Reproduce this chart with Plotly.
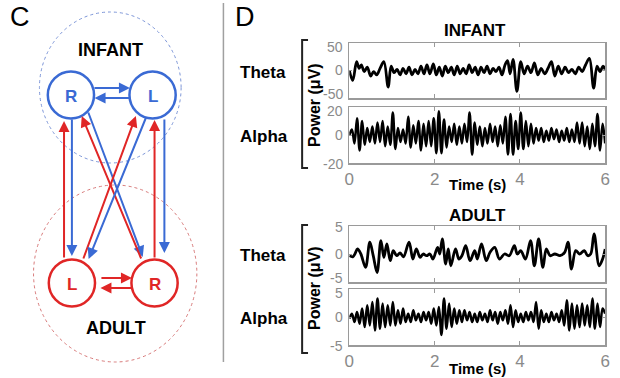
import plotly.graph_objects as go

W, H = 620, 378
FONT = "Liberation Sans, Arial, sans-serif"

# ---------------- data ----------------
# turning points of the theta traces: (time s, value)
INFANT_THETA = [(0.00, 0), (0.08, -18), (0.17, 16), (0.23, 4), (0.28, 10), (0.35, -2), (0.42, 6),
                (0.50, -10), (0.57, -2), (0.64, -8), (0.72, 4), (0.81, 16), (0.91, -30), (0.98, 8),
                (1.05, -4), (1.12, 2), (1.19, -8), (1.26, 4), (1.33, -6), (1.40, 6), (1.47, -8),
                (1.54, 2), (1.61, -6), (1.68, 8), (1.75, -6), (1.82, 10), (1.89, -6), (1.97, 12),
                (2.04, -8), (2.11, 6), (2.18, -10), (2.25, 8), (2.32, -4), (2.39, 6), (2.46, -8),
                (2.53, 8), (2.60, -6), (2.67, 4), (2.74, -6), (2.81, 10), (2.88, -4), (2.95, 6),
                (3.02, -8), (3.09, 6), (3.16, -4), (3.23, 8), (3.30, -6), (3.37, 4), (3.44, -2),
                (3.51, 6), (3.58, -8), (3.65, 10), (3.71, 18), (3.77, -6), (3.84, 20), (3.93, -38),
                (4.02, 16), (4.10, -6), (4.18, 8), (4.26, -4), (4.34, 14), (4.42, -8), (4.50, 4),
                (4.58, -6), (4.66, 4), (4.74, 16), (4.82, -10), (4.90, 8), (4.98, -6), (5.06, 6),
                (5.14, -4), (5.22, 2), (5.30, -6), (5.38, 6), (5.46, -2), (5.54, 10), (5.63, 22),
                (5.73, -32), (5.81, 8), (5.88, -2), (5.95, 8), (6.00, 2)]

ADULT_THETA = [(0.00, -0.3), (0.08, -0.5), (0.13, 0.0), (0.19, 0.9), (0.27, 0.0), (0.38, -2.4),
               (0.48, 2.1), (0.56, -0.3), (0.65, -3.3), (0.74, 2.4), (0.81, -0.6), (0.88, 1.8),
               (0.96, -1.2), (1.03, 0.6), (1.11, -0.3), (1.19, 0.2), (1.27, -0.5), (1.40, 2.1),
               (1.49, -0.9), (1.57, 0.9), (1.66, -0.6), (1.73, 0.0), (1.81, -0.3), (1.89, 0.0),
               (1.96, -0.9), (2.07, 1.2), (2.12, 0.0), (2.18, 2.7), (2.26, -1.8), (2.32, 0.9),
               (2.38, -2.1), (2.49, 0.9), (2.57, -0.9), (2.64, -0.3), (2.73, 1.5), (2.83, -1.2),
               (2.94, 0.6), (3.00, -0.9), (3.10, 1.8), (3.21, -1.2), (3.30, 0.3), (3.41, 1.2),
               (3.52, -0.9), (3.64, 0.0), (3.75, -0.3), (3.87, 1.5), (3.94, 0.0), (4.02, 0.6),
               (4.13, -0.9), (4.25, 2.4), (4.34, -2.1), (4.44, 2.7), (4.54, -2.4), (4.62, 0.9),
               (4.71, -0.3), (4.82, 0.0), (4.94, -0.3), (5.05, 0.3), (5.13, 2.1), (5.21, -2.7),
               (5.31, 0.6), (5.40, 0.0), (5.51, 0.6), (5.59, -0.3), (5.66, 0.0), (5.74, 3.6),
               (5.86, -2.1), (5.94, -0.9), (6.00, 0.9)]

# alpha traces: turning points every 0.06 s
ALPHA_STEP = 0.06
INFANT_ALPHA = [0, 4, -6, 12, -11, 10, -7, 5, -5, 6,
                -6, 9, -5, 10, -8, 6, -7, 16, -10, 5,
                -5, 4, -6, 13, -9, 7, -6, 10, -11, 8,
                -8, 10, -8, 12, -13, 17, -13, 11, -9, 6,
                -5, 8, -7, 6, -6, 8, -5, 16, -14, 9,
                -7, 6, -8, 5, -6, 8, -5, 6, -8, 7,
                -6, 13, -14, 15, -14, 10, -10, 16, -10, 10,
                -8, 8, -6, 5, -4, 5, -5, 3, -4, 5,
                -3, 4, -5, 3, -4, 5, -5, 4, -5, 9,
                -6, 9, -8, 6, -10, 8, -8, 15, -11, 8,
                -6]

ADULT_ALPHA = [-0.3, 0.6, -0.9, 0.9, -1.2, 1.5, -1.8, 2.1, -1.5, 2.7,
               -2.4, 3.3, -2.1, 2.4, -1.8, 2.1, -1.5, 2.7, -1.5, 1.2,
               -1.2, 1.5, -0.9, 0.6, -0.9, 1.2, -0.6, 0.6, -0.9, 0.9,
               -0.6, 0.9, -1.2, 1.5, -1.5, 1.8, -3.2, 3.3, -2.1, 2.4,
               -1.8, 1.5, -1.2, 1.2, -0.9, 1.2, -0.6, 0.9, -0.9, 0.6,
               -0.9, 0.9, -0.6, 0.6, -0.9, 1.2, -0.6, 0.9, -1.2, 0.9,
               -0.6, 1.2, -1.2, 2.1, -1.8, 1.2, -0.9, 0.6, -0.9, 0.9,
               -0.6, 0.9, -0.9, 2.7, -2.1, 1.2, -0.9, 0.6, -0.9, 0.9,
               -0.6, 0.6, -0.9, 1.2, -1.5, 3.0, -2.4, 2.4, -2.1, 2.1,
               -1.8, 2.4, -1.5, 2.1, -1.8, 3.3, -2.1, 2.4, -1.8, 1.5,
               0.6]

TIME_TICKS = [0, 2, 4, 6]
THETA_LABEL, ALPHA_LABEL = "Theta", "Alpha"
GROUPS = ["INFANT", "ADULT"]

# ---------------- helpers ----------------
def px(x):
    return x / W

def py(y):
    return 1 - y / H

def alpha_times(vals):
    return [round(i * ALPHA_STEP, 3) for i in range(len(vals))]

BLUE = "#3a6ad4"
RED = "#e02626"
AXC = "#9a9a9a"
TICKC = "#8a8a8a"

fig = go.Figure()

panels = [
    # (x, y, axis index, top px, bottom px, range, tickvals, label y-shifts, show x labels, width)
    ([t for t, _ in INFANT_THETA], [v for _, v in INFANT_THETA], 1, 43, 98, [-50, 50], [-50, 0, 50], (4, 0, -4), False, 2.8),
    (alpha_times(INFANT_ALPHA), INFANT_ALPHA, 2, 107, 163, [-20, 20], [-20, 0, 20], (-1, 0, -4), True, 2.5),
    ([t for t, _ in ADULT_THETA], [v for _, v in ADULT_THETA], 3, 226, 282, [-5, 5], [-5, 0, 5], (4, 0, -1), False, 2.8),
    (alpha_times(ADULT_ALPHA), ADULT_ALPHA, 4, 289, 345, [-5, 5], [-5, 0, 5], (-1, 0, -4), True, 2.5),
]

layout = dict(
    width=W, height=H, margin=dict(l=0, r=0, t=0, b=0), autosize=False,
    paper_bgcolor="white", plot_bgcolor="white", showlegend=False,
    font=dict(family=FONT, color="black"),
)

ann = []
shapes = []

for xs, ys, k, top, bot, yr, ytv, shifts, showx, lw in panels:
    sfx = "" if k == 1 else str(k)
    fig.add_trace(go.Scatter(x=xs, y=ys, mode="lines", xaxis="x" + sfx, yaxis="y" + sfx,
                             line=dict(color="black", width=lw, shape="spline", smoothing=1.0),
                             hoverinfo="skip"))
    layout["xaxis" + sfx] = dict(
        domain=[px(350), px(610)], range=[0, 6], anchor="y" + sfx,
        tickvals=TIME_TICKS, showticklabels=showx, ticks="inside", ticklen=4,
        tickcolor=AXC, tickwidth=1.2, showline=True, linecolor=AXC, linewidth=1.5,
        mirror="ticks", showgrid=False, zeroline=False,
        tickfont=dict(size=17, color=TICKC, family=FONT), fixedrange=True)
    layout["yaxis" + sfx] = dict(
        domain=[py(bot), py(top)], range=yr, anchor="x" + sfx,
        tickvals=ytv, showticklabels=False, ticks="inside", ticklen=3, tickcolor=AXC,
        showline=True, linecolor=AXC, linewidth=1.5, mirror="ticks",
        showgrid=False, zeroline=False, fixedrange=True)
    # y tick labels, placed on the axis scale and nudged apart as in the figure
    for v, s in zip(ytv, shifts):
        ann.append(dict(x=px(346), y=v, xref="paper", yref="y" + sfx, showarrow=False,
                        text=str(v), xanchor="right", yanchor="middle", yshift=s,
                        font=dict(size=14, color=TICKC, family=FONT)))

fig.update_layout(**layout)


def text(x, y, s, size, color="black", bold=True, angle=0):
    ann.append(dict(x=px(x), y=py(y), xref="paper", yref="paper", showarrow=False,
                    text=("<b>%s</b>" % s) if bold else s, textangle=angle,
                    font=dict(size=size, color=color, family=FONT),
                    xanchor="center", yanchor="middle"))

# panel letters
text(15, 17, "C", 27, bold=False)
text(244, 17, "D", 27, bold=False)

# right panel labels
for g, (ty, thy, aly, btop, bbot, pwy, timey), tx in zip(
        GROUPS, [(31, 72, 136, 40, 168, 105, 184), (215, 255, 318, 225, 353, 288, 368)], [478, 480]):
    text(tx, ty, g, 17)
    text(262, thy, THETA_LABEL, 17)
    text(263, aly, ALPHA_LABEL, 17)
    text(314, pwy, "Power (μV)", 16, angle=-90)
    shapes.append(dict(type="path", xref="paper", yref="paper",
                       path="M %f %f L %f %f L %f %f L %f %f" % (
                           px(308), py(btop), px(302), py(btop), px(302), py(bbot), px(308), py(bbot)),
                       line=dict(color="#222222", width=2)))
    text(480, timey, "Time (s)", 15)

# separator
shapes.append(dict(type="line", xref="paper", yref="paper", x0=px(222), x1=px(222),
                   y0=py(3), y1=py(362), line=dict(color="#a0a0a0", width=1.5)))

# dashed group circles
shapes.append(dict(type="circle", xref="paper", yref="paper",
                   x0=px(35), x1=px(179), y0=py(163), y1=py(12),
                   line=dict(color="#7d96d8", width=1, dash="dot")))
shapes.append(dict(type="circle", xref="paper", yref="paper",
                   x0=px(29), x1=px(195), y0=py(362), y1=py(185),
                   line=dict(color="#d87a7a", width=1, dash="dot")))

text(107, 50, "INFANT", 18)
text(113, 328, "ADULT", 18)

# nodes
nodes = [(67, 95, "R", BLUE), (150, 95, "L", BLUE), (68, 283, "L", RED), (152, 283, "R", RED)]
for cx, cy, lab, col in nodes:
    r = 23.5
    shapes.append(dict(type="circle", xref="paper", yref="paper",
                       x0=px(cx - r), x1=px(cx + r), y0=py(cy + r), y1=py(cy - r),
                       line=dict(color=col, width=2.5), fillcolor="white"))
    text(cx, cy + 1, lab, 17, color=col)

# arrows: (tail x, tail y, head x, head y, colour)
arrows = [
    (90, 88, 127, 88, BLUE), (127, 98, 91, 98, BLUE),
    (97, 278, 129, 278, RED), (130, 288, 97, 288, RED),
    (60, 259, 60, 121, RED), (68, 118, 68, 256, BLUE),
    (152, 259, 152, 120, RED), (162, 118, 162, 253, BLUE),
    (85, 111, 140, 257, BLUE), (138, 260, 78, 116, RED),
    (80, 260, 133, 116, RED), (143, 116, 85, 259, BLUE),
]
for tx_, ty_, hx, hy, col in arrows:
    ann.append(dict(x=px(hx), y=py(hy), xref="paper", yref="paper", text="",
                    showarrow=True, ax=tx_ - hx, ay=ty_ - hy, axref="pixel", ayref="pixel",
                    arrowhead=2, arrowsize=1.1, arrowwidth=2, arrowcolor=col, standoff=0))

fig.update_layout(annotations=ann, shapes=shapes)
fig.write_html("out.html", config={"displayModeBar": False, "staticPlot": True},
               post_script="document.body.style.margin='0px';document.body.style.overflow='hidden';")
